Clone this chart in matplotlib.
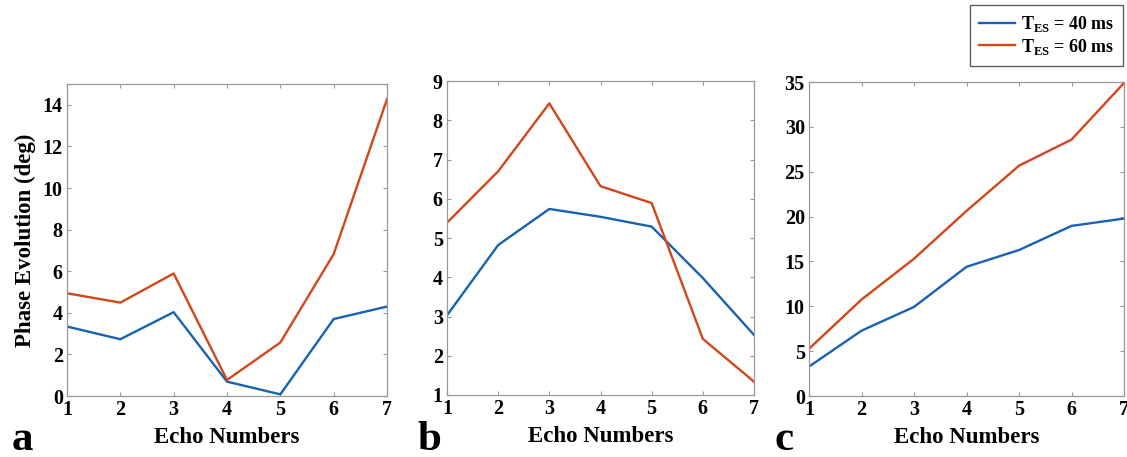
import matplotlib
matplotlib.use("Agg")
import matplotlib.pyplot as plt

# echo numbers shared by all panels
echoes = [1, 2, 3, 4, 5, 6, 7]

# panel a
a_40 = [3.34, 2.73, 4.03, 0.69, 0.08, 3.70, 4.30]
a_60 = [4.94, 4.49, 5.89, 0.77, 2.57, 6.82, 14.27]
# panel b
b_40 = [3.03, 4.82, 5.74, 5.54, 5.29, 3.98, 2.53]
b_60 = [5.39, 6.70, 8.43, 6.32, 5.89, 2.43, 1.34]
# panel c
c_40 = [3.28, 7.28, 9.93, 14.40, 16.27, 18.96, 19.78]
c_60 = [5.26, 10.75, 15.30, 20.63, 25.67, 28.58, 34.89]

labels = [r"T$_{\mathrm{ES}}$ = 40 ms", r"T$_{\mathrm{ES}}$ = 60 ms"]
colors = ["#1762B2", "#D2461A"]

plt.rcParams["font.family"] = "Liberation Serif"
plt.rcParams["font.weight"] = "bold"
plt.rcParams["mathtext.fontset"] = "custom"
plt.rcParams["mathtext.rm"] = "Liberation Serif:bold"
plt.rcParams["mathtext.bf"] = "Liberation Serif:bold"

W, H = 1127, 457
fig = plt.figure(figsize=(W / 100, H / 100), dpi=100)


def px_axes(x0, y0, x1, y1):
    # pixel box (top-left origin) -> figure fraction
    return fig.add_axes([x0 / W, 1 - y1 / H, (x1 - x0) / W, (y1 - y0) / H])


panels = [
    (px_axes(67, 84, 387, 396), a_40, a_60, (0, 15), list(range(0, 15, 2)), "a", 12),
    (px_axes(447, 81, 754, 395), b_40, b_60, (1, 9), list(range(1, 10)), "b", 417),
    (px_axes(809, 82, 1124, 396), c_40, c_60, (0, 35), list(range(0, 36, 5)), "c", 775),
]

lines = []
for ax, s40, s60, ylim, yticks, letter, lx in panels:
    l1, = ax.plot(echoes, s40, color=colors[0], lw=1.7)
    l2, = ax.plot(echoes, s60, color=colors[1], lw=1.7)
    lines = [l1, l2]
    ax.set_xlim(1, 7)
    ax.set_ylim(*ylim)
    ax.set_xticks(echoes)
    ax.set_yticks(yticks)
    ax.tick_params(direction="in", length=3, color="#999999", labelsize=14.5,
                   top=True, right=True, pad=3)
    for lab in ax.get_xticklabels() + ax.get_yticklabels():
        lab.set_fontweight("bold")
    for sp in ax.spines.values():
        sp.set_color("#999999")
        sp.set_linewidth(0.9)
    ax.set_xlabel("Echo Numbers", fontsize=16.5, fontweight="bold", labelpad=5)
    fig.text(lx / W, 1 - 450 / H, letter, fontsize=31, fontweight="bold",
             ha="left", va="baseline")

panels[0][0].set_ylabel("Phase Evolution (deg)", fontsize=16.5, fontweight="bold",
                        labelpad=5)

leg = fig.legend(lines, labels, loc="upper right",
                 bbox_to_anchor=(1123 / W, 1 - 5 / H), fontsize=13,
                 frameon=True, fancybox=False, handlelength=2.0,
                 handletextpad=0.3, borderpad=0.5, labelspacing=0.15,
                 borderaxespad=0)
leg.get_frame().set_edgecolor("#333333")
leg.get_frame().set_linewidth(1.0)

fig.savefig("out.png", dpi=100)
